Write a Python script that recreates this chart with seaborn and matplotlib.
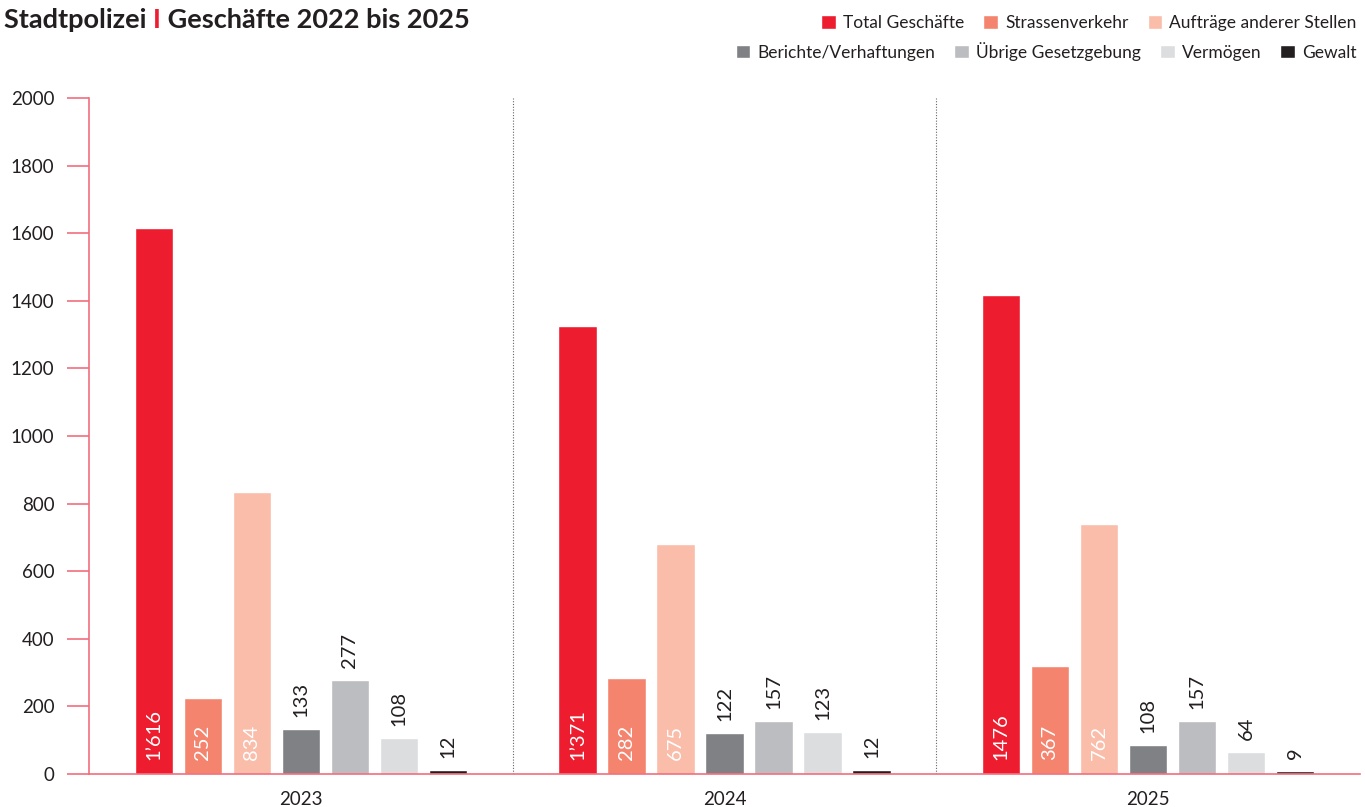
import matplotlib
matplotlib.use("Agg")
import matplotlib.pyplot as plt
import pandas as pd
import seaborn as sns

years = ["2023", "2024", "2025"]
categories = ["Total Geschäfte", "Strassenverkehr", "Aufträge anderer Stellen",
              "Berichte/Verhaftungen", "Übrige Gesetzgebung", "Vermögen", "Gewalt"]
colors = ["#ED1C2E", "#F4846E", "#F9BDAA", "#808184", "#BCBDC0", "#DCDDDE", "#231F20"]

# bar heights as drawn (they do not always match the printed labels)
total = [1615, 1325, 1417]
strassen = [225, 284, 320]
auftraege = [834, 680, 740]
berichte = [133, 121, 86]
uebrige = [278, 157, 157]
vermoegen = [107, 124, 65]
gewalt = [12, 12, 9]

# printed labels
lbl_total = ["1’616", "1’371", "1476"]
lbl_strassen = ["252", "282", "367"]
lbl_auftraege = ["834", "675", "762"]
lbl_berichte = ["133", "122", "108"]
lbl_uebrige = ["277", "157", "157"]
lbl_vermoegen = ["108", "123", "64"]
lbl_gewalt = ["12", "12", "9"]

values = [total, strassen, auftraege, berichte, uebrige, vermoegen, gewalt]
labels = [lbl_total, lbl_strassen, lbl_auftraege, lbl_berichte,
          lbl_uebrige, lbl_vermoegen, lbl_gewalt]

rows = []
for cat, vals in zip(categories, values):
    for yr, v in zip(years, vals):
        rows.append({"year": yr, "cat": cat, "value": v})
df = pd.DataFrame(rows)

sns.set_theme(style="white")
plt.rcParams["font.family"] = ["Lato", "DejaVu Sans"]
txt = "#231F20"
axis_red = "#F26D7D"

fig = plt.figure(figsize=(13.65, 8.07), dpi=100)
ax = fig.add_axes([0.0652, 0.0409, 0.9311, 0.8377])

sns.barplot(data=df, x="year", y="value", hue="cat", order=years,
            hue_order=categories, palette=colors, width=0.81, gap=0.22,
            saturation=1, ax=ax, legend=True)

ax.set_ylim(0, 2000)
ax.set_xlim(-0.5, 2.5)
ax.set_yticks(range(0, 2001, 200))
ax.set_xlabel("")
ax.set_ylabel("")
for s in ["top", "right"]:
    ax.spines[s].set_visible(False)
ax.spines["left"].set_color(axis_red)
ax.spines["bottom"].set_color(axis_red)
ax.spines["left"].set_linewidth(1.2)
ax.spines["bottom"].set_linewidth(1.2)
ax.tick_params(axis="y", length=16, width=1.2, color=axis_red,
               labelsize=13.5, labelcolor=txt, pad=9, left=True)
ax.tick_params(axis="x", length=0, labelsize=13.5, labelcolor=txt, pad=12)

for xs in [0.5, 1.5]:
    ax.axvline(xs, color="#666666", linestyle=(0, (1, 1.5)), linewidth=0.8)

# value labels
for i, cont in enumerate(ax.containers):
    for bar, lab in zip(cont, labels[i]):
        cx = bar.get_x() + bar.get_width() / 2
        h = bar.get_height()
        if i < 3:
            ax.text(cx, 40, lab, rotation=90, ha="center", va="bottom",
                    color="white", fontsize=14.5)
        else:
            ax.text(cx, h + 35, lab, rotation=90, ha="center", va="bottom",
                    color=txt, fontsize=14.5)

# legend split in two rows (3 + 4 entries)
handles, labs = ax.get_legend_handles_labels()
ax.get_legend().remove()
kw = dict(frameon=False, fontsize=12.5, handlelength=0.85, handleheight=0.85,
          handletextpad=0.4, columnspacing=1.1, borderaxespad=0,
          labelcolor=txt)
fig.legend(handles[:3], labs[:3], ncol=3, loc="upper right",
           bbox_to_anchor=(0.999, 0.99), **kw)
fig.legend(handles[3:], labs[3:], ncol=4, loc="upper right",
           bbox_to_anchor=(0.999, 0.957), **kw)

fig.text(0.003, 0.975, "Stadtpolizei ", fontsize=19.5, fontweight="bold",
         color=txt, va="center", ha="left")
t1 = fig.texts[-1]
fig.canvas.draw()
bb = t1.get_window_extent()
fig.text(bb.x1 / fig.bbox.width, 0.975, "I", fontsize=19.5, fontweight="bold",
         color="#ED1C2E", va="center", ha="left")
bb2 = fig.texts[-1].get_window_extent()
fig.text(bb2.x1 / fig.bbox.width, 0.975, " Geschäfte 2022 bis 2025",
         fontsize=19.5, fontweight="bold", color=txt, va="center", ha="left")

fig.savefig("out.png", dpi=100)
